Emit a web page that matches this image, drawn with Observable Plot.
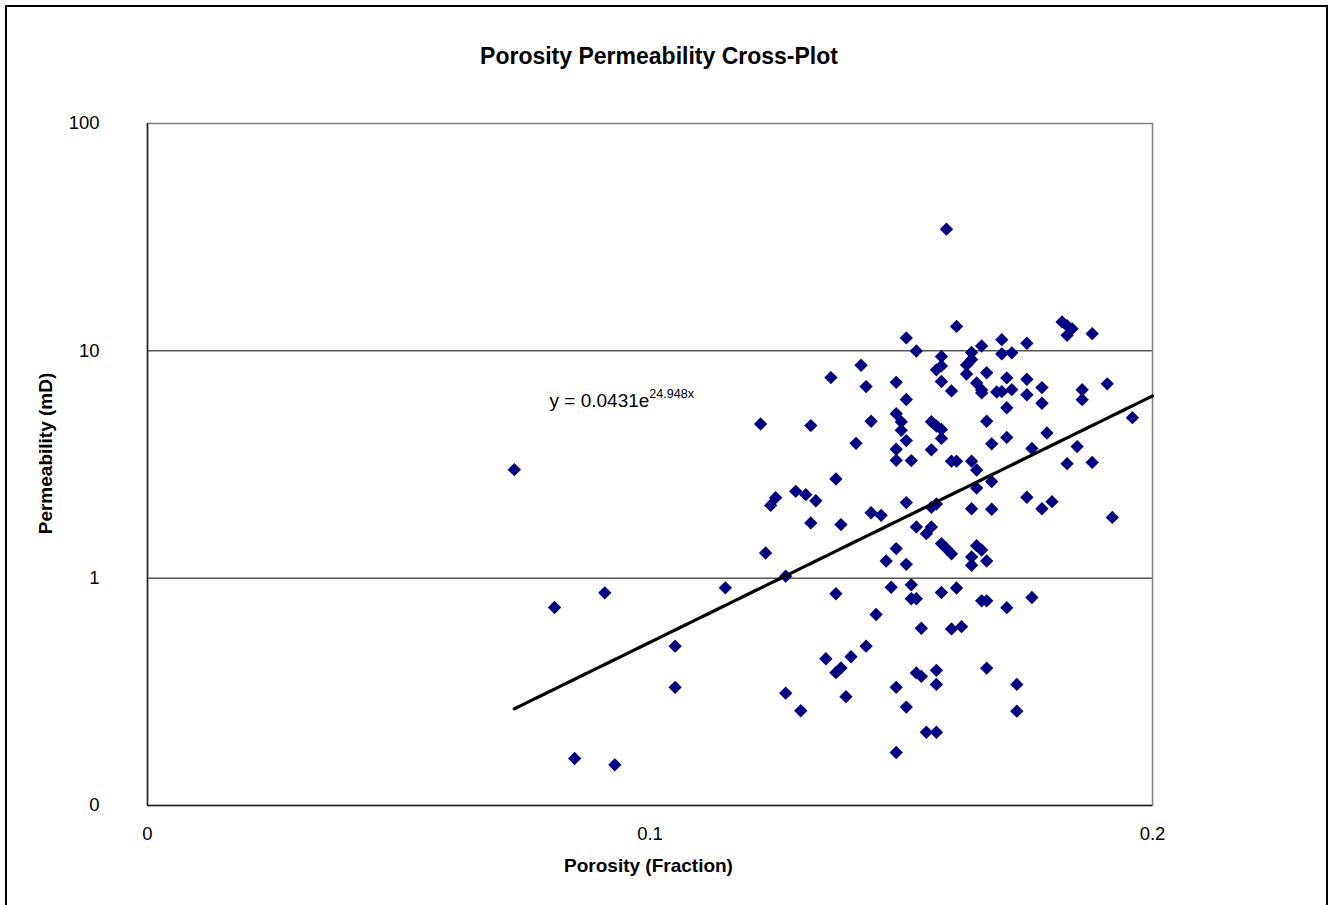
<!DOCTYPE html>
<html>
<head>
<meta charset="utf-8">
<script src="https://cdn.jsdelivr.net/npm/d3@7"></script>
<script src="https://cdn.jsdelivr.net/npm/@observablehq/plot@0.6"></script>
<style>
  html, body { margin: 0; padding: 0; background: #fff; }
  body {
    width: 1332px; height: 905px; position: relative; overflow: hidden;
    font-family: "Liberation Sans", Arial, sans-serif; color: #000;
  }
  #chart { position: absolute; left: 0; top: 0; }
  #outline {
    position: absolute; left: 5px; top: 5px; width: 1319px; height: 930px;
    border: 2px solid #000; pointer-events: none; z-index: 2;
  }
  .title {
    position: absolute; left: 359px; top: 45px; width: 600px;
    text-align: center; font-weight: bold; font-size: 23px; line-height: 23px;
  }
  .xtitle {
    position: absolute; left: 348.5px; top: 855.5px; width: 600px;
    text-align: center; font-weight: bold; font-size: 19px; line-height: 19px;
  }
  .ytitle {
    position: absolute; left: -105px; top: 444px; width: 300px; height: 19px;
    text-align: center; font-weight: bold; font-size: 19px; line-height: 19px;
    transform: rotate(-90deg); transform-origin: 50% 50%;
  }
</style>
</head>
<body>
<div id="chart"></div>
<div class="title">Porosity Permeability Cross-Plot</div>
<div class="ytitle">Permeability (mD)</div>
<div class="xtitle">Porosity (Fraction)</div>
<div id="outline"></div>
<script>
// Core samples: porosity (fraction) and permeability (mD)
const porosity = [
  0.073, 0.081, 0.085, 0.091, 0.093, 0.105, 0.105, 0.115, 0.122, 0.123,
  0.124, 0.125, 0.127, 0.127, 0.129, 0.130, 0.131, 0.132, 0.132, 0.133,
  0.135, 0.136, 0.137, 0.137, 0.137, 0.138, 0.138, 0.139, 0.140, 0.141,
  0.142, 0.143, 0.143, 0.144, 0.144, 0.145, 0.146, 0.147, 0.148, 0.149,
  0.149, 0.149, 0.149, 0.149, 0.149, 0.149, 0.150, 0.150, 0.151, 0.151,
  0.151, 0.151, 0.151, 0.151, 0.152, 0.152, 0.152, 0.153, 0.153, 0.153,
  0.153, 0.154, 0.154, 0.155, 0.155, 0.156, 0.156, 0.156, 0.156, 0.157,
  0.157, 0.157, 0.157, 0.157, 0.157, 0.158, 0.158, 0.158, 0.158, 0.158,
  0.158, 0.159, 0.158, 0.159, 0.160, 0.160, 0.160, 0.160, 0.161, 0.161,
  0.161, 0.162, 0.163, 0.163, 0.164, 0.164, 0.164, 0.164, 0.164, 0.164,
  0.165, 0.165, 0.165, 0.165, 0.166, 0.166, 0.166, 0.166, 0.166, 0.167,
  0.167, 0.167, 0.167, 0.167, 0.168, 0.168, 0.168, 0.169, 0.170, 0.170,
  0.170, 0.171, 0.171, 0.171, 0.171, 0.172, 0.172, 0.173, 0.173, 0.175,
  0.175, 0.175, 0.175, 0.176, 0.176, 0.178, 0.178, 0.178, 0.179, 0.180,
  0.182, 0.183, 0.184, 0.183, 0.183, 0.185, 0.186, 0.186, 0.188, 0.188,
  0.191, 0.192, 0.196
];
const permeability = [
  3.00, 0.743, 0.161, 0.862, 0.151, 0.502, 0.331, 0.907, 4.77, 1.29,
  2.09, 2.26, 1.02, 0.312, 2.41, 0.261, 2.33, 4.69, 1.75, 2.19,
  0.442, 7.63, 2.73, 0.854, 0.384, 0.403, 1.72, 0.301, 0.451, 3.92,
  8.64, 6.96, 0.502, 4.90, 1.94, 0.692, 1.89, 1.19, 0.912, 7.27,
  5.29, 3.69, 3.30, 1.35, 0.331, 0.171, 4.87, 4.47, 11.4, 6.11,
  4.03, 2.15, 1.15, 0.271, 3.29, 0.935, 0.812, 9.98, 1.68, 0.812,
  0.383, 0.370, 0.602, 1.57, 0.210, 4.88, 3.67, 1.68, 2.05, 4.67,
  2.12, 0.393, 0.341, 0.210, 8.25, 9.44, 8.58, 7.33, 4.51, 4.12,
  1.42, 1.35, 0.865, 34.3, 1.28, 6.66, 3.27, 0.598, 12.8, 3.27,
  0.905, 0.612, 8.67, 7.91, 9.83, 9.16, 3.27, 2.02, 1.24, 1.14,
  7.22, 2.99, 2.49, 1.39, 10.5, 6.73, 6.53, 1.33, 0.795, 8.01,
  4.90, 1.19, 0.795, 0.402, 3.90, 2.66, 2.01, 6.59, 11.2, 9.69,
  6.61, 7.60, 5.62, 4.16, 0.742, 9.80, 6.75, 0.341, 0.260, 10.8,
  7.50, 6.41, 2.27, 3.72, 0.822, 6.89, 5.88, 2.02, 4.35, 2.17,
  13.4, 12.9, 12.5, 11.7, 3.19, 3.79, 6.74, 6.10, 11.9, 3.23,
  7.16, 1.85, 5.08
];

// Exponential trendline y = a·e^(b·x)
const trendA = 0.0431;
const trendB = 24.948;
const trendEnd = 0.2;

// Axis ticks and their labels
const xTickValues = [0, 0.1, 0.2];
const xTickLabels = ["0", "0.1", "0.2"];
const yTickValues = [0.1, 1, 10, 100];
const yTickLabels = ["0", "1", "10", "100"];
const gridValues = [1, 10];

// Where the trend equation sits, in data units
const equationAt = {phi: 0.08, k: 6};

const samples = porosity.map((phi, i) => ({phi, k: permeability[i]}));
const trendStart = d3.min(porosity);
const trend = d3.range(trendStart, trendEnd + 1e-9, 0.001)
  .concat([trendEnd])
  .map(phi => ({phi, k: trendA * Math.exp(trendB * phi)}));

const xLabel = new Map(xTickValues.map((v, i) => [v, xTickLabels[i]]));
const yLabel = new Map(yTickValues.map((v, i) => [v, yTickLabels[i]]));
const equationBase = `y = ${trendA}e`;

const plot = Plot.plot({
  width: 1332,
  height: 905,
  marginLeft: 147,
  marginRight: 180,
  marginTop: 123,
  marginBottom: 100,
  style: {
    fontFamily: '"Liberation Sans", Arial, sans-serif',
    fontSize: "18.5px",
    color: "#000",
    background: "transparent"
  },
  x: {
    domain: [0, 0.2],
    ticks: xTickValues,
    tickFormat: d => xLabel.get(d) ?? "",
    tickSize: 0,
    tickPadding: 21,
    label: null
  },
  y: {
    type: "log",
    domain: [0.1, 100],
    ticks: yTickValues,
    tickFormat: d => yLabel.get(d) ?? "",
    tickSize: 0,
    tickPadding: 48,
    label: null
  },
  marks: [
    Plot.ruleY(gridValues, {stroke: "#000", strokeWidth: 1}),
    Plot.frame({stroke: "#808080", strokeWidth: 1.5}),
    Plot.ruleX([0], {stroke: "#222", strokeWidth: 1.5}),
    Plot.ruleY([0.1], {stroke: "#222", strokeWidth: 1.5}),
    Plot.dot(samples, {x: "phi", y: "k", symbol: "diamond2", r: 6, fill: "#000080", stroke: "none"}),
    Plot.line(trend, {x: "phi", y: "k", stroke: "#000", strokeWidth: 3.2}),
    Plot.text([equationAt], {
      x: "phi", y: "k",
      text: () => equationBase,
      textAnchor: "start",
      fontSize: 19,
      fill: "#000"
    })
  ]
});

// Exponent of the trend equation as a raised, smaller run of text
for (const t of plot.querySelectorAll("text")) {
  if (t.textContent === equationBase) {
    const sup = document.createElementNS("http://www.w3.org/2000/svg", "tspan");
    sup.setAttribute("dy", "-9.6");
    sup.setAttribute("font-size", "12.6");
    sup.textContent = `${trendB}x`;
    t.appendChild(sup);
  }
}

document.getElementById("chart").appendChild(plot);
</script>
</body>
</html>
